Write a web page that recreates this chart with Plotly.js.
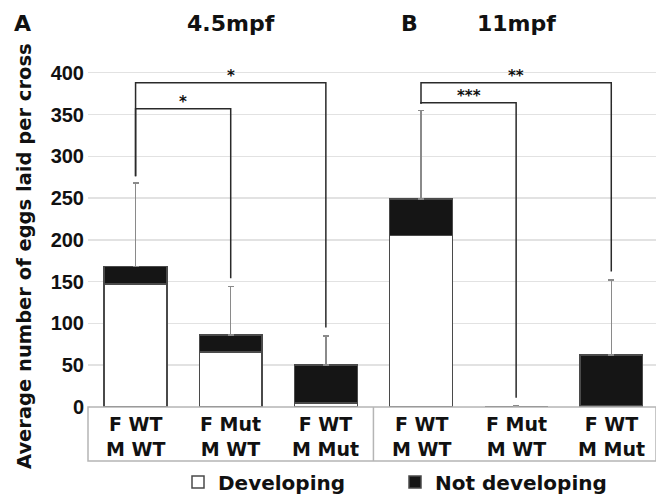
<!DOCTYPE html>
<html>
<head>
<meta charset="utf-8">
<script src="https://cdn.plot.ly/plotly-3.0.1.min.js"></script>
<style>html,body{margin:0;padding:0;background:#fff;}#chart{width:656px;height:496px;}</style>
</head>
<body>
<div id="chart"></div>
<script>
// ---- data ----
const femaleLabels = ["F WT", "F Mut", "F WT", "F WT", "F Mut", "F WT"];
const maleLabels   = ["M WT", "M WT", "M Mut", "M WT", "M WT", "M Mut"];
const developing    = [147, 66, 5, 205, 0, 1];
const notDeveloping = [21, 20, 45, 44, 0, 61];
const errorUp       = [100, 58, 35, 106, 1, 90];
const panelTitles   = ["4.5mpf", "11mpf"];
const panelLetters  = ["A", "B"];
// brackets: [fromIndex, toIndex, level, label]
const brFrom  = [0, 0, 3, 3];
const brTo    = [1, 2, 4, 5];
const brLevel = [357, 388, 364, 388];
const brLabel = ["*", "*", "***", "**"];
const yTitle = "Average number of eggs laid per cross";

const xIdx = femaleLabels.map((_, i) => i);
const totals = developing.map((d, i) => d + notDeveloping[i]);
const errTop = totals.map((t, i) => t + errorUp[i]);

const BOLD = "DejaVu Sans, sans-serif";
const ARIAL = "Liberation Sans, Arial, sans-serif";
const PX_TOP = 56, PX_ZERO = 407, YMAX = 420;
const plotH = PX_ZERO - PX_TOP;
const paperY = px => (PX_ZERO - px) / plotH;
const paperX = px => (px - 88) / 568;
const bf = (size, fam) => ({family: fam || BOLD, size: size, color: "#111111", weight: "bold"});

const traces = [
  {
    type: "bar", name: "Developing", x: xIdx, y: developing, width: 0.66,
    marker: {color: "#ffffff", line: {color: "#4a4a4a", width: 1.5}},
    hoverinfo: "skip"
  },
  {
    type: "bar", name: "Not developing", x: xIdx, y: notDeveloping, width: 0.66,
    marker: {color: "#151515", line: {color: "#4a4a4a", width: 1.5}},
    error_y: {type: "data", symmetric: false, array: errorUp, arrayminus: notDeveloping.map(() => 0),
              color: "#8a8a8a", thickness: 1.5, width: 3},
    hoverinfo: "skip"
  }
];

const shapes = [];
const annotations = [];
// bracket shapes
for (let k = 0; k < brFrom.length; k++) {
  const a = brFrom[k], b = brTo[k], lv = brLevel[k];
  const legA = errTop[a] + 8, legB = errTop[b] + 10;
  shapes.push({
    type: "path", xref: "x", yref: "y", layer: "above",
    path: `M ${a},${legA} L ${a},${lv} L ${b},${lv} L ${b},${legB}`,
    line: {color: "#2a2a2a", width: 1.5}
  });
  annotations.push({
    x: (a + b) / 2, y: lv, xref: "x", yref: "y", text: brLabel[k], showarrow: false,
    xanchor: "center", yanchor: "bottom", yshift: -4, font: bf(15)
  });
}
// category box
const boxBottom = paperY(461);
shapes.push({type: "rect", xref: "paper", yref: "paper", x0: 0, x1: 1, y0: boxBottom, y1: 0,
  line: {color: "#b5b5b5", width: 1.5}, fillcolor: "rgba(0,0,0,0)"});
shapes.push({type: "line", xref: "x", yref: "paper", x0: 2.5, x1: 2.5, y0: boxBottom, y1: 0,
  line: {color: "#b5b5b5", width: 1.5}});
// category labels
xIdx.forEach(i => {
  annotations.push({x: i, y: paperY(437), xref: "x", yref: "paper",
    text: femaleLabels[i] + "<br>" + maleLabels[i],
    showarrow: false, xanchor: "center", yanchor: "middle", font: bf(19)});
});
// panel titles
annotations.push({x: 1, y: paperY(24), xref: "x", yref: "paper", text: panelTitles[0], showarrow: false,
  xanchor: "center", yanchor: "middle", font: bf(22)});
annotations.push({x: 4, y: paperY(24), xref: "x", yref: "paper", text: panelTitles[1], showarrow: false,
  xanchor: "center", yanchor: "middle", font: bf(22)});
annotations.push({x: paperX(22), y: paperY(24), xref: "paper", yref: "paper", text: panelLetters[0],
  showarrow: false, xanchor: "center", yanchor: "middle", font: bf(22)});
annotations.push({x: 2.88, y: paperY(24), xref: "x", yref: "paper", text: panelLetters[1],
  showarrow: false, xanchor: "center", yanchor: "middle", font: bf(22)});
// y title
annotations.push({x: paperX(24), y: paperY(256), xref: "paper", yref: "paper", text: yTitle,
  showarrow: false, textangle: -90, xanchor: "center", yanchor: "middle", font: bf(19.5)});

const layout = {
  width: 656, height: 496,
  margin: {l: 88, r: 0, t: PX_TOP, b: 496 - PX_ZERO, autoexpand: false},
  paper_bgcolor: "#ffffff", plot_bgcolor: "#ffffff",
  barmode: "stack",
  showlegend: true,
  legend: {orientation: "h", x: paperX(178), xanchor: "left", y: paperY(482), yanchor: "middle",
    font: bf(20), traceorder: "normal", itemwidth: 30, entrywidth: 172, entrywidthmode: "pixels"},
  xaxis: {range: [-0.5, 5.47], showticklabels: false, showgrid: false, zeroline: false,
    showline: false, ticks: "", fixedrange: true},
  yaxis: {range: [0, YMAX], tick0: 0, dtick: 50, showgrid: true, gridcolor: "#e2e2e2", gridwidth: 1.5,
    zeroline: false, showline: false, ticks: "", ticklen: 0, ticklabelstandoff: 3,
    tickfont: bf(20, ARIAL), fixedrange: true},
  shapes: shapes,
  annotations: annotations
};

Plotly.newPlot("chart", traces, layout, {displayModeBar: false, staticPlot: true});
</script>
</body>
</html>
